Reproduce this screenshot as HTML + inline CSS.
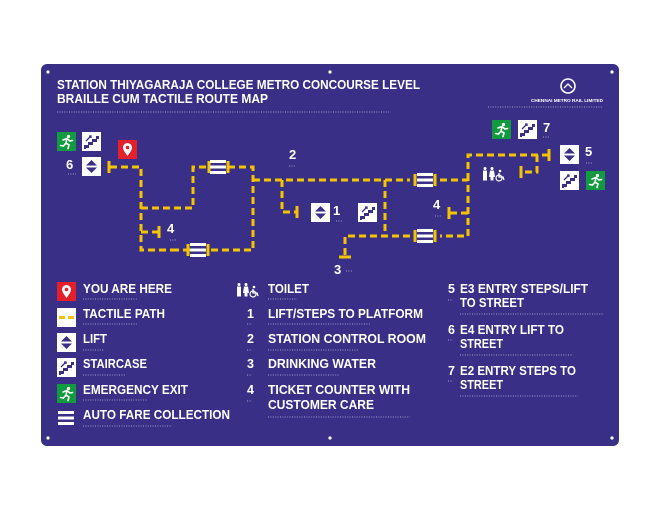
<!DOCTYPE html>
<html><head><meta charset="utf-8"><style>
html,body{margin:0;padding:0;background:#fff;}
svg{display:block;}
text{font-family:"Liberation Sans",sans-serif;font-weight:bold;fill:#fff;}
</style></head><body>
<svg width="660" height="510" viewBox="0 0 660 510" xmlns="http://www.w3.org/2000/svg">
<defs>
<g id="lift"><rect x="0" y="0" width="19" height="19" fill="#fff"/><path d="M9.5 3 L15 8.5 H4 Z M9.5 16 L15 10.5 H4 Z" fill="#3a2f86"/></g>
<g id="stair"><rect x="0" y="0" width="19" height="19" fill="#fff"/><path d="M2 17 V13 H6 V10 H10 V7 H14 V4 H17 V7 H15 V10 H11 V13 H7 V16 H4 V17 Z" fill="#3a2f86"/><path d="M4 9 L9 4 M7 4 H9 V6" stroke="#3a2f86" stroke-width="1.3" fill="none"/></g>
<g id="exit"><rect x="0" y="0" width="19" height="19" fill="#129a3f"/><circle cx="11.5" cy="4.5" r="1.6" fill="#fff"/><path d="M6 8 L10 6.5 L13 9 L15.5 8.5 M10 6.5 L9 11 L12 13 L11 16.5 M9 11 L6.5 14 L3.5 13.5" stroke="#fff" stroke-width="1.6" fill="none" stroke-linecap="round"/></g>
<g id="pin"><rect x="0" y="0" width="19" height="19" fill="#e4202a"/><path d="M9.5 16 C6 11 5 9.5 5 7.5 A4.5 4.5 0 0 1 14 7.5 C14 9.5 13 11 9.5 16 Z" fill="#fff"/><circle cx="9.5" cy="7.5" r="1.8" fill="#e4202a"/></g>
<g id="afc"><rect x="-8" y="-7" width="16" height="3" fill="#fff"/><rect x="-8" y="-1.5" width="16" height="3" fill="#fff"/><rect x="-8" y="4" width="16" height="3" fill="#fff"/></g>
<g id="toilet" fill="#fff"><circle cx="3" cy="1.5" r="1.5"/><rect x="1" y="3.5" width="4" height="10"/><circle cx="10" cy="1.5" r="1.5"/><path d="M8 3.5 H12 L13 10 H7 Z"/><rect x="8.5" y="10" width="3" height="3.5"/><circle cx="18" cy="4" r="1.3"/><path d="M17 6 V10 H21 L22 13" stroke="#fff" stroke-width="1.3" fill="none"/><circle cx="17" cy="11" r="3" stroke="#fff" stroke-width="1.2" fill="none"/></g>
</defs>
<rect x="41" y="64" width="578" height="382" rx="6" fill="#3a2f86"/>
<g fill="#fff"><circle cx="48" cy="72" r="1.6"/><circle cx="330" cy="72" r="1.6"/><circle cx="612" cy="72" r="1.6"/><circle cx="48" cy="438" r="1.6"/><circle cx="330" cy="438" r="1.6"/><circle cx="612" cy="438" r="1.6"/></g>

<text x="57" y="89" font-size="12.5" textLength="363" lengthAdjust="spacingAndGlyphs">STATION THIYAGARAJA COLLEGE METRO CONCOURSE LEVEL</text>
<text x="57" y="103" font-size="12.5" textLength="211" lengthAdjust="spacingAndGlyphs">BRAILLE CUM TACTILE ROUTE MAP</text>
<g stroke="#8c86c0" stroke-width="1.3" stroke-dasharray="1 1.4" fill="none">
<line x1="57" y1="112" x2="390" y2="112"/>
<line x1="488" y1="107" x2="603" y2="107"/>
</g>
<circle cx="568" cy="86" r="7" fill="none" stroke="#fff" stroke-width="1.6"/>
<path d="M564 88 L568 84 L572 88" stroke="#fff" stroke-width="1.3" fill="none"/>
<text x="567" y="102" font-size="4.6" text-anchor="middle" textLength="72" lengthAdjust="spacingAndGlyphs">CHENNAI METRO RAIL LIMITED</text>

<use href="#exit" x="57" y="132"/>
<use href="#stair" x="82" y="132"/>
<use href="#pin" x="118" y="140"/>
<use href="#lift" x="82" y="157"/>
<text x="66" y="169" font-size="13">6</text>
<use href="#lift" x="311" y="203"/>
<text x="333" y="215" font-size="13">1</text>
<use href="#stair" x="358" y="203"/>
<text x="289" y="159" font-size="13">2</text>
<text x="334" y="274" font-size="13">3</text>
<text x="167" y="233" font-size="13">4</text>
<text x="433" y="209" font-size="13">4</text>
<use href="#exit" x="492" y="120"/>
<use href="#stair" x="518" y="120"/>
<text x="543" y="132" font-size="13">7</text>
<use href="#lift" x="560" y="145"/>
<text x="585" y="156" font-size="13">5</text>
<use href="#stair" x="560" y="171"/>
<use href="#exit" x="586" y="171"/>
<use href="#toilet" x="482" y="167"/>

<g stroke="#f5c400" stroke-width="3" fill="none" stroke-dasharray="7 4">
<path d="M110 167 H141 V250 H176"/>
<path d="M141 208 H193 V167 H209"/>
<path d="M228 167 H253 V250 H208"/>
<path d="M190 250 H176"/>
<path d="M141 232 H158"/>
<path d="M253 180 H410"/>
<path d="M440 180 H468 V236 H440"/>
<path d="M282 180 V212 H296"/>
<path d="M385 180 V236"/>
<path d="M345 255 V236 H410"/>
<path d="M468 213 H450"/>
<path d="M468 180 V155 H548"/>
<path d="M537 155 V172 H522"/>
</g>
<g stroke="#f5c400" stroke-width="3">
<line x1="109" y1="161" x2="109" y2="173"/>
<line x1="159" y1="226" x2="159" y2="238"/>
<line x1="297" y1="206" x2="297" y2="218"/>
<line x1="339" y1="257" x2="351" y2="257"/>
<line x1="449" y1="207" x2="449" y2="219"/>
<line x1="549" y1="149" x2="549" y2="161"/>
<line x1="521" y1="166" x2="521" y2="178"/>
<line x1="209" y1="161" x2="209" y2="173"/><line x1="228" y1="161" x2="228" y2="173"/>
<line x1="188" y1="244" x2="188" y2="256"/><line x1="208" y1="244" x2="208" y2="256"/>
<line x1="415" y1="174" x2="415" y2="186"/><line x1="435" y1="174" x2="435" y2="186"/>
<line x1="415" y1="230" x2="415" y2="242"/><line x1="435" y1="230" x2="435" y2="242"/>
</g>
<use href="#afc" x="218" y="167"/>
<use href="#afc" x="198" y="250"/>
<use href="#afc" x="425" y="180"/>
<use href="#afc" x="425" y="236"/>

<g stroke="#8c86c0" stroke-width="1.2" stroke-dasharray="1 1.4">
<line x1="68" y1="174" x2="76" y2="174"/><line x1="289" y1="166" x2="295" y2="166"/>
<line x1="170" y1="240" x2="177" y2="240"/><line x1="336" y1="221" x2="342" y2="221"/>
<line x1="435" y1="216" x2="441" y2="216"/><line x1="543" y1="137" x2="549" y2="137"/>
<line x1="586" y1="163" x2="592" y2="163"/><line x1="346" y1="271" x2="352" y2="271"/>
</g>

<use href="#pin" x="57" y="282"/>
<rect x="57" y="308" width="19" height="19" fill="#fff"/><line x1="59" y1="317.5" x2="74" y2="317.5" stroke="#f5c400" stroke-width="3" stroke-dasharray="6 3"/>
<use href="#lift" x="57" y="333"/>
<use href="#stair" x="57" y="358"/>
<use href="#exit" x="57" y="384"/>
<g transform="translate(66,418)"><use href="#afc"/></g>
<g font-size="12.5">
<text x="83" y="293" textLength="89" lengthAdjust="spacingAndGlyphs">YOU ARE HERE</text>
<text x="83" y="318" textLength="82" lengthAdjust="spacingAndGlyphs">TACTILE PATH</text>
<text x="83" y="343" textLength="24" lengthAdjust="spacingAndGlyphs">LIFT</text>
<text x="83" y="368" textLength="64" lengthAdjust="spacingAndGlyphs">STAIRCASE</text>
<text x="83" y="394" textLength="105" lengthAdjust="spacingAndGlyphs">EMERGENCY EXIT</text>
<text x="83" y="419" textLength="147" lengthAdjust="spacingAndGlyphs">AUTO FARE COLLECTION</text>
<text x="268" y="293" textLength="41" lengthAdjust="spacingAndGlyphs">TOILET</text>
<text x="247" y="318">1</text><text x="268" y="318" textLength="155" lengthAdjust="spacingAndGlyphs">LIFT/STEPS TO PLATFORM</text>
<text x="247" y="343">2</text><text x="268" y="343" textLength="158" lengthAdjust="spacingAndGlyphs">STATION CONTROL ROOM</text>
<text x="247" y="368">3</text><text x="268" y="368" textLength="108" lengthAdjust="spacingAndGlyphs">DRINKING WATER</text>
<text x="247" y="394">4</text><text x="268" y="394" textLength="142" lengthAdjust="spacingAndGlyphs">TICKET COUNTER WITH</text>
<text x="268" y="409" textLength="106" lengthAdjust="spacingAndGlyphs">CUSTOMER CARE</text>
<text x="448" y="293">5</text><text x="460" y="293" textLength="128" lengthAdjust="spacingAndGlyphs">E3 ENTRY STEPS/LIFT</text>
<text x="460" y="307" textLength="64" lengthAdjust="spacingAndGlyphs">TO STREET</text>
<text x="448" y="334">6</text><text x="460" y="334" textLength="104" lengthAdjust="spacingAndGlyphs">E4 ENTRY LIFT TO</text>
<text x="460" y="348" textLength="43" lengthAdjust="spacingAndGlyphs">STREET</text>
<text x="448" y="375">7</text><text x="460" y="375" textLength="116" lengthAdjust="spacingAndGlyphs">E2 ENTRY STEPS TO</text>
<text x="460" y="389" textLength="43" lengthAdjust="spacingAndGlyphs">STREET</text>
</g>
<use href="#toilet" x="236" y="283"/>
<g stroke="#8c86c0" stroke-width="1.3" stroke-dasharray="1 1.4">
<line x1="83" y1="299" x2="138" y2="299"/>
<line x1="83" y1="324" x2="138" y2="324"/>
<line x1="83" y1="350" x2="104" y2="350"/>
<line x1="83" y1="375" x2="126" y2="375"/>
<line x1="83" y1="400" x2="147" y2="400"/>
<line x1="83" y1="426" x2="172" y2="426"/>
<line x1="268" y1="299" x2="297" y2="299"/>
<line x1="247" y1="324" x2="252" y2="324"/><line x1="268" y1="324" x2="370" y2="324"/>
<line x1="247" y1="350" x2="252" y2="350"/><line x1="268" y1="350" x2="358" y2="350"/>
<line x1="247" y1="375" x2="252" y2="375"/><line x1="268" y1="375" x2="339" y2="375"/>
<line x1="247" y1="401" x2="252" y2="401"/><line x1="268" y1="417" x2="410" y2="417"/>
<line x1="448" y1="300" x2="453" y2="300"/><line x1="460" y1="314" x2="603" y2="314"/>
<line x1="448" y1="340" x2="453" y2="340"/><line x1="460" y1="355" x2="573" y2="355"/>
<line x1="448" y1="381" x2="453" y2="381"/><line x1="460" y1="396" x2="578" y2="396"/>
</g>
</svg>
</body></html>
